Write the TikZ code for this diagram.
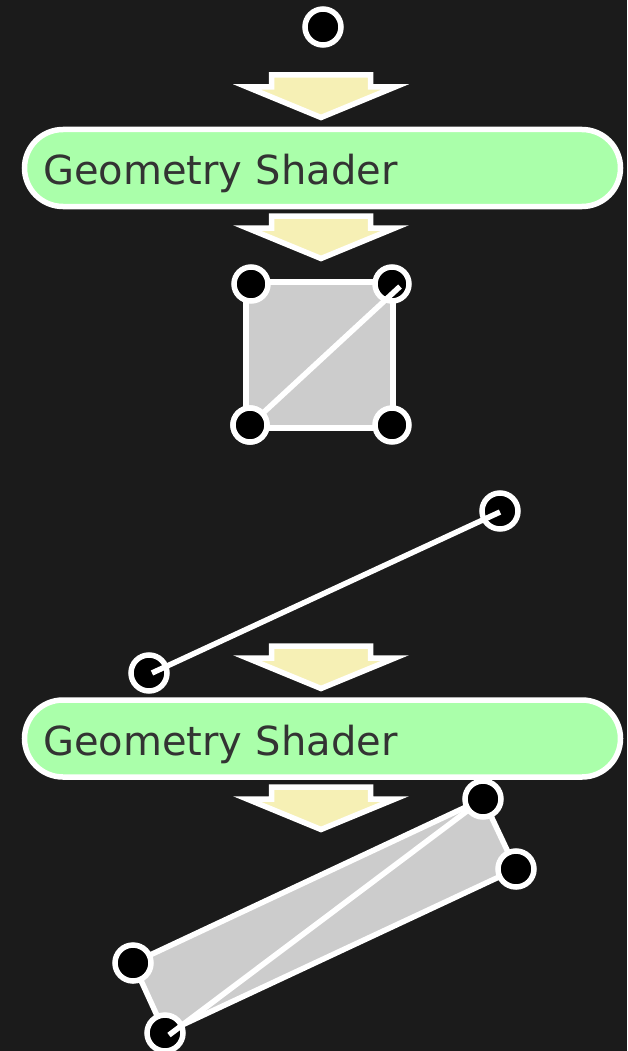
\documentclass[tikz,border=0pt]{standalone}
\usepackage{fontspec}
\setmainfont{DejaVu Sans}
\definecolor{bg}{HTML}{1B1B1B}
\definecolor{gsgreen}{HTML}{AAFFAA}
\definecolor{gstext}{HTML}{333333}
\definecolor{arrowfill}{HTML}{F6F0B5}
\definecolor{quadfill}{HTML}{CCCCCC}
\tikzset{
  vert/.style={circle, draw=white, fill=black, line width=5.5pt, minimum size=36pt, inner sep=0pt},
  svert/.style={vert, minimum size=34pt},
  edge/.style={draw=white, line width=5.5pt},
  quad/.style={draw=white, fill=quadfill, line width=5.5pt, line join=round},
  gsbox/.style={draw=white, fill=gsgreen, line width=5.5pt, rounded corners=38.5pt,
    minimum width=596pt, minimum height=77pt, text width=559pt, inner xsep=18.5pt,
    align=left, text=gstext, font=\fontsize{40pt}{48pt}\selectfont,
    text height=36pt, text depth=2pt},
  arrowshape/.style={draw=white, fill=arrowfill, line width=5.5pt, line join=miter},
  flowarrow/.pic={\path[arrowshape] (-49.5,3) -- (49.5,3) -- (49.5,15) -- (74,15) -- (0,45.5) -- (-74,15) -- (-49.5,15) -- cycle;}
}
\begin{document}
\begin{tikzpicture}[x=1pt, y=-1pt]
\fill[bg] (0,0) rectangle (627,1051);
\useasboundingbox (0,0) rectangle (627,1051);

% top vertex
\node[vert] (v0) at (323,27) {};
\pic at (321,72) {flowarrow};
\node[gsbox] (gs1) at (322.5,168) {Geometry Shader};
\pic at (321,213) {flowarrow};

% square
\coordinate (c1) at (246,282);
\coordinate (c2) at (393,282);
\coordinate (c3) at (393,428);
\coordinate (c4) at (246,428);
\path[quad] (c1) -- (c2) -- (c3) -- (c4) -- cycle;
\coordinate (sqd) at (400,286.5);
\node[svert] (s3) at (250,425) {};
\draw[edge] (s3.center) -- (sqd);
\node[svert] (s1) at (251,284) {};
\node[svert] (s2) at (392,284) {};
\node[svert] (s4) at (392,425) {};
\node[svert] (s3b) at (250,425) {};
\begin{scope}
  \clip (s2.center) circle (19pt);
  \draw[edge] (s3.center) -- (sqd);
\end{scope}

% line
\node[vert] (l1) at (149,673) {};
\node[vert] (l2) at (500,511) {};
\coordinate (la) at (152,673);
\coordinate (lb) at (500,512);
\draw[edge] (la) -- (lb);

\pic at (321,643) {flowarrow};
\node[gsbox] (gs2) at (322.5,738.5) {Geometry Shader};
\pic at (321,784) {flowarrow};

% quad
\coordinate (q1) at (483,799);
\coordinate (q2) at (516,869);
\coordinate (q3) at (165,1033);
\coordinate (q4) at (133,963);
\path[quad] (q1) -- (q2) -- (q3) -- (q4) -- cycle;
\coordinate (qd) at (169,1035);
\draw[edge] (qd) -- (q1);
\node[vert] (n1) at (q1) {};
\node[vert] (n2) at (q2) {};
\node[vert] (n3) at (q3) {};
\node[vert] (n4) at (q4) {};
\begin{scope}
  \clip (n3.center) circle (19pt);
  \draw[edge] (qd) -- (n1.center);
\end{scope}
\end{tikzpicture}
\end{document}
